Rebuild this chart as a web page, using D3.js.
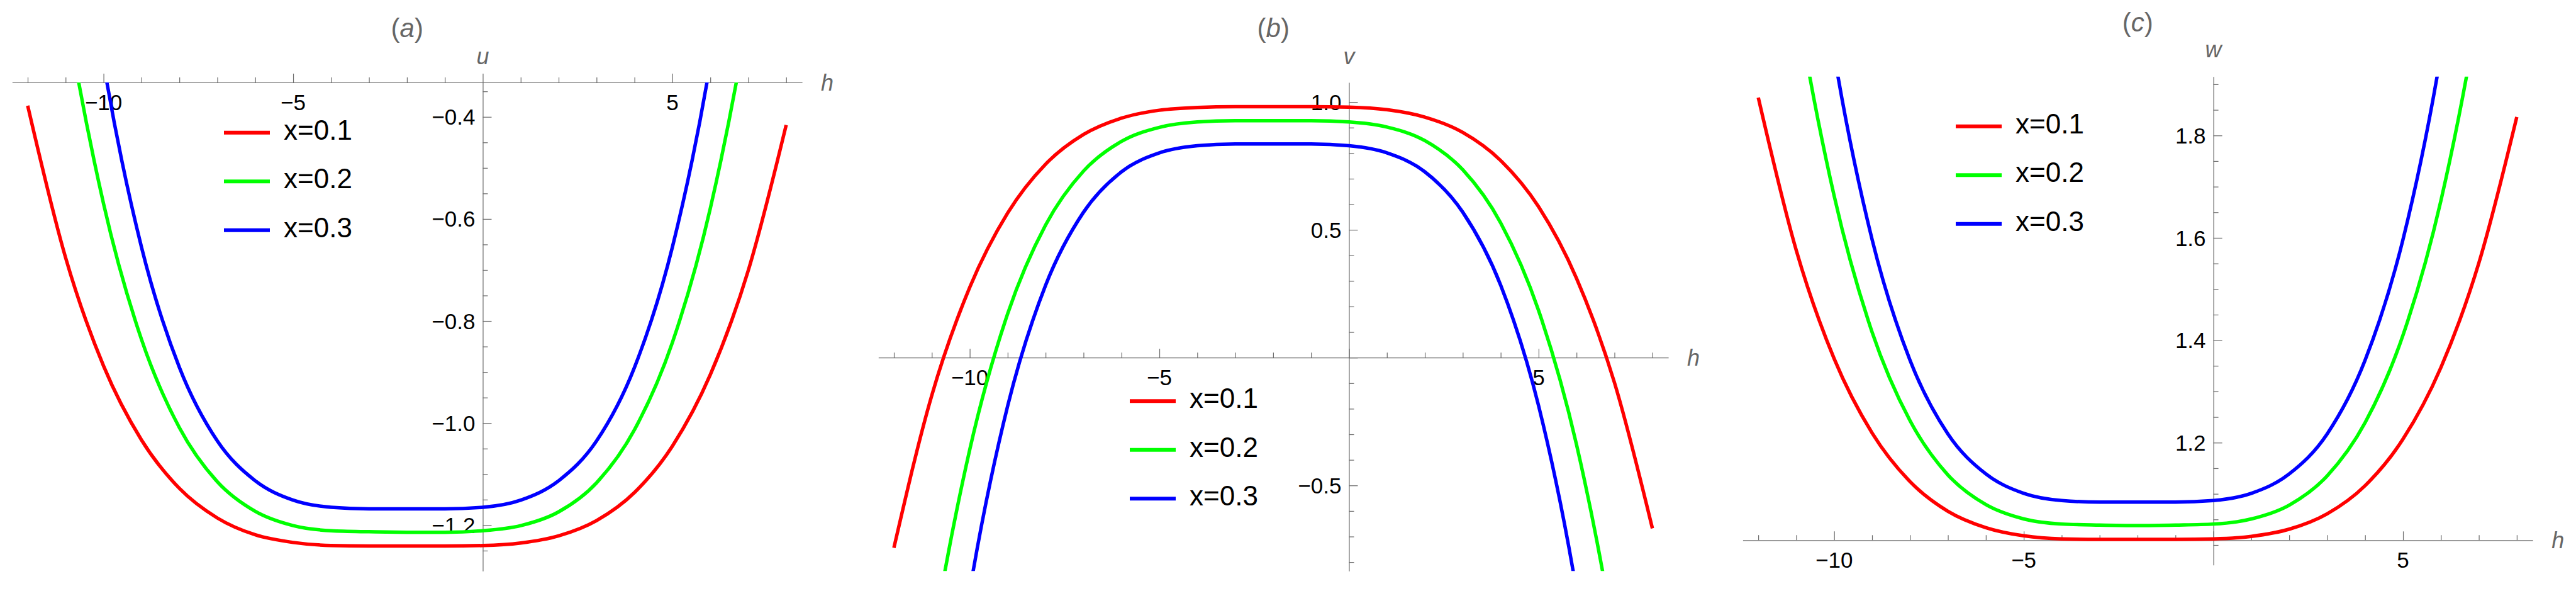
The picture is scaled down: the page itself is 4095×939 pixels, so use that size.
<!DOCTYPE html>
<html>
<head>
<meta charset="utf-8">
<script src="https://cdn.jsdelivr.net/npm/d3@7"></script>
<style>
  body { margin: 0; background: #ffffff; }
  svg { display: block; }
</style>
</head>
<body>
<svg id="chart" width="4095" height="939"></svg>
<script>
// ---------------- DATA ----------------
const hValues = [-12,-11,-10,-9,-8,-7,-6,-5,-4,-3,-2,-1,0,1,2,3,4,5,6,7,8];

const seriesNames  = ["x=0.1", "x=0.2", "x=0.3"];
const seriesColors = ["#ff0000", "#00ff00", "#0000ff"];

// panel (a): u
const uRed   = [-0.378,-0.676,-0.888,-1.033,-1.128,-1.186,-1.219,-1.234,-1.240,-1.241,-1.241,-1.241,-1.240,-1.235,-1.221,-1.191,-1.136,-1.045,-0.905,-0.701,-0.416];
const uGreen = [0.356,-0.183,-0.570,-0.836,-1.009,-1.115,-1.173,-1.201,-1.211,-1.213,-1.214,-1.214,-1.211,-1.201,-1.174,-1.117,-1.013,-0.842,-0.579,-0.197,0.337];
const uBlue  = [0.967,0.233,-0.294,-0.655,-0.891,-1.035,-1.113,-1.151,-1.165,-1.168,-1.168,-1.168,-1.165,-1.151,-1.113,-1.035,-0.891,-0.655,-0.294,0.233,0.967];

// panel (b): v
const vRed   = [-0.744,-0.147,0.275,0.566,0.757,0.873,0.937,0.968,0.979,0.982,0.982,0.982,0.980,0.970,0.941,0.881,0.771,0.590,0.310,-0.098,-0.668];
const vGreen = [-2.212,-1.134,-0.360,0.172,0.519,0.730,0.846,0.901,0.922,0.927,0.927,0.927,0.922,0.902,0.849,0.735,0.527,0.184,-0.341,-1.106,-2.174];
const vBlue  = [-3.434,-1.966,-0.913,-0.189,0.283,0.569,0.727,0.801,0.829,0.836,0.836,0.836,0.829,0.801,0.727,0.569,0.283,-0.189,-0.913,-1.966,-3.434];

// panel (c): w
const wRed   = [1.874,1.576,1.364,1.219,1.124,1.066,1.034,1.018,1.012,1.011,1.011,1.011,1.012,1.017,1.031,1.061,1.116,1.207,1.347,1.551,1.836];
const wGreen = [2.608,2.069,1.682,1.416,1.243,1.137,1.079,1.051,1.041,1.039,1.038,1.039,1.041,1.051,1.078,1.135,1.239,1.410,1.673,2.055,2.589];
const wBlue  = [3.219,2.485,1.959,1.597,1.361,1.217,1.139,1.101,1.087,1.084,1.084,1.084,1.087,1.101,1.139,1.217,1.361,1.597,1.959,2.485,3.219];

// ticks
const hMajorTicks = [-10,-5,0,5];
const hMinorTicks = [-12,-11,-9,-8,-7,-6,-4,-3,-2,-1,1,2,3,4,6,7,8];
const hLabelValues = [-10,-5,5];
const hTickLabels  = ["\u221210","\u22125","5"];

const uMajorTicks = [-0.4,-0.6,-0.8,-1.0,-1.2];
const uTickLabels = ["\u22120.4","\u22120.6","\u22120.8","\u22121.0","\u22121.2"];
const uMinorTicks = [-0.35,-0.45,-0.5,-0.55,-0.65,-0.7,-0.75,-0.85,-0.9,-0.95,-1.05,-1.1,-1.15,-1.25];

const vMajorTicks = [1.0,0.5,0,-0.5];
const vLabelValues = [1.0,0.5,-0.5];
const vTickLabels = ["1.0","0.5","\u22120.5"];
const vMinorTicks = [0.9,0.8,0.7,0.6,0.4,0.3,0.2,0.1,-0.1,-0.2,-0.3,-0.4,-0.6,-0.7,-0.8];

const wMajorTicks = [1.2,1.4,1.6,1.8];
const wTickLabels = ["1.2","1.4","1.6","1.8"];
const wMinorTicks = [1.0,1.05,1.1,1.15,1.25,1.3,1.35,1.45,1.5,1.55,1.65,1.7,1.75,1.85,1.9];

// ---------------- LAYOUT ----------------
const FONT = "'Liberation Sans', Arial, Helvetica, sans-serif";
const AXIS_COLOR = "#6b6b6b";
const LABEL_GRAY = "#666666";
const hDomain = [-12.41, 8.42];

const panels = [
  { title: "a", yName: "u", series: [uRed, uGreen, uBlue],
    xRange: [19.3, 1275.1], yDomain: [-1.290, -0.3325], yRange: [907.3, 131],
    xAxisAt: -0.3325,
    yMajor: uMajorTicks, yMinor: uMinorTicks, yLabelValues: uMajorTicks, yLabels: uTickLabels,
    legend: { x: 356, y: 210.7 }, titleY: 59, nameY: 102 },
  { title: "b", yName: "v", series: [vRed, vGreen, vBlue],
    xRange: [1396.3, 2652.1], yDomain: [-0.835, 1.0766], yRange: [907.3, 131],
    xAxisAt: 0,
    yMajor: vMajorTicks, yMinor: vMinorTicks, yLabelValues: vLabelValues, yLabels: vTickLabels,
    legend: { x: 1796, y: 637.3 }, titleY: 59, nameY: 102 },
  { title: "c", yName: "w", series: [wRed, wGreen, wBlue],
    xRange: [2770.4, 4026.2], yDomain: [0.961, 1.915], yRange: [897.7, 121.7],
    xAxisAt: 1.0094,
    yMajor: wMajorTicks, yMinor: wMinorTicks, yLabelValues: wMajorTicks, yLabels: wTickLabels,
    legend: { x: 3109, y: 200.7 }, titleY: 49.5, nameY: 91 }
];

// ---------------- DRAW ----------------
const svg = d3.select("#chart");
svg.append("rect").attr("width", 4095).attr("height", 939).attr("fill", "#ffffff");
const defs = svg.append("defs");

panels.forEach((p, pi) => {
  const x = d3.scaleLinear().domain(hDomain).range(p.xRange);
  const y = d3.scaleLinear().domain(p.yDomain).range(p.yRange);
  const g = svg.append("g");

  const clipId = "clip" + pi;
  defs.append("clipPath").attr("id", clipId)
    .append("rect")
    .attr("x", p.xRange[0]).attr("y", p.yRange[1])
    .attr("width", p.xRange[1] - p.xRange[0])
    .attr("height", p.yRange[0] - p.yRange[1]);

  const axisY = y(p.xAxisAt);
  const axisX = x(0);

  // x axis (ticks pointing up)
  const xMinorAxis = d3.axisTop(x).tickValues(hMinorTicks).tickSize(8).tickSizeOuter(0).tickFormat(() => "");
  const xMajorAxis = d3.axisTop(x).tickValues(hMajorTicks).tickSize(14).tickSizeOuter(0).tickFormat(() => "");
  const gx1 = g.append("g").attr("transform", `translate(0,${axisY})`).call(xMinorAxis);
  const gx2 = g.append("g").attr("transform", `translate(0,${axisY})`).call(xMajorAxis);
  gx2.select(".domain").remove();

  // y axis (ticks pointing right)
  const yMinorAxis = d3.axisRight(y).tickValues(p.yMinor).tickSize(8).tickSizeOuter(0).tickFormat(() => "");
  const yMajorAxis = d3.axisRight(y).tickValues(p.yMajor).tickSize(14).tickSizeOuter(0).tickFormat(() => "");
  const gy1 = g.append("g").attr("transform", `translate(${axisX},0)`).call(yMinorAxis);
  const gy2 = g.append("g").attr("transform", `translate(${axisX},0)`).call(yMajorAxis);
  gy2.select(".domain").remove();

  [gx1, gx2, gy1, gy2].forEach(a => {
    a.selectAll("path, line").attr("stroke", AXIS_COLOR).attr("stroke-width", 1.2);
  });

  // x tick labels
  g.append("g").selectAll("text").data(hLabelValues).join("text")
    .attr("x", d => x(d)).attr("y", axisY + 44)
    .attr("text-anchor", "middle")
    .attr("font-family", FONT).attr("font-size", 35).attr("fill", "#000")
    .text((d, i) => hTickLabels[i]);

  // y tick labels
  g.append("g").selectAll("text").data(p.yLabelValues).join("text")
    .attr("x", axisX - 12).attr("y", d => y(d)).attr("dy", "0.36em")
    .attr("text-anchor", "end")
    .attr("font-family", FONT).attr("font-size", 35).attr("fill", "#000")
    .text((d, i) => p.yLabels[i]);

  // axis names
  g.append("text")
    .attr("x", p.xRange[1] + 30).attr("y", axisY + 13)
    .attr("font-family", FONT).attr("font-size", 36).attr("font-style", "italic")
    .attr("fill", LABEL_GRAY).text("h");
  g.append("text")
    .attr("x", axisX).attr("y", p.nameY).attr("text-anchor", "middle")
    .attr("font-family", FONT).attr("font-size", 36).attr("font-style", "italic")
    .attr("fill", LABEL_GRAY).text(p.yName);

  // title
  const t = g.append("text")
    .attr("x", (p.xRange[0] + p.xRange[1]) / 2).attr("y", p.titleY)
    .attr("text-anchor", "middle")
    .attr("font-family", FONT).attr("font-size", 42).attr("fill", LABEL_GRAY);
  t.append("tspan").text("(");
  t.append("tspan").attr("font-style", "italic").text(p.title);
  t.append("tspan").text(")");

  // curves
  const line = d3.line()
    .x(d => x(d[0])).y(d => y(d[1]))
    .curve(d3.curveMonotoneX);
  const curves = g.append("g").attr("clip-path", `url(#${clipId})`);
  p.series.forEach((vals, si) => {
    curves.append("path")
      .datum(hValues.map((h, i) => [h, vals[i]]))
      .attr("d", line)
      .attr("fill", "none")
      .attr("stroke", seriesColors[si])
      .attr("stroke-width", 5.5)
      .attr("stroke-linejoin", "round");
  });

  // legend
  const lg = g.append("g").attr("transform", `translate(${p.legend.x},${p.legend.y})`);
  seriesNames.forEach((name, si) => {
    const row = lg.append("g").attr("transform", `translate(0,${si * 77.5})`);
    row.append("line").attr("x1", 0).attr("x2", 73).attr("y1", 0).attr("y2", 0)
      .attr("stroke", seriesColors[si]).attr("stroke-width", 6);
    row.append("text").attr("x", 95).attr("y", 11)
      .attr("font-family", FONT).attr("font-size", 44).attr("fill", "#000")
      .text(name);
  });
});
</script>
</body>
</html>
